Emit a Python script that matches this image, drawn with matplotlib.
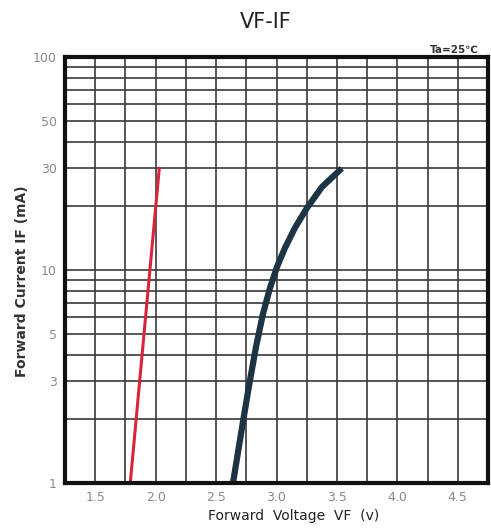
import matplotlib
matplotlib.use("Agg")
import matplotlib.pyplot as plt
import numpy as np

# red LED curve
red_vf = [1.79, 2.03]
red_if = [1, 30]

# dark curve
dark_vf = [2.640, 2.706, 2.772, 2.830, 2.888, 2.946, 3.004, 3.070, 3.152, 3.252, 3.376, 3.54]
dark_if = [1, 1.70, 2.85, 4.35, 6.22, 8.23, 10.33, 12.69, 15.75, 19.55, 24.53, 30]

x_ticks = [1.5, 2.0, 2.5, 3.0, 3.5, 4.0, 4.5]
x_ticklabels = ["1.5", "2.0", "2.5", "3.0", "3.5", "4.0", "4.5"]
y_ticks = [1, 3, 5, 10, 30, 50, 100]
y_ticklabels = ["1", "3", "5", "10", "30", "50", "100"]

fig = plt.figure(figsize=(4.91, 5.30), dpi=100)
ax = fig.add_axes([0.1324, 0.0887, 0.8615, 0.8038])

ax.set_yscale("log")
ax.set_xlim(1.25, 4.75)
ax.set_ylim(1, 100)

# grid: every 0.25 V, log minor lines
for v in np.arange(1.5, 4.75, 0.25):
    ax.axvline(v, color="#3a3a3a", lw=1.2, zorder=1)
for dec in [1, 10]:
    for m in range(2, 11):
        ax.axhline(dec * m, color="#3a3a3a", lw=1.2, zorder=1)

ax.plot(red_vf, red_if, color="#d8243c", lw=2.2, zorder=3)
ax.plot(dark_vf, dark_if, color="#1d3444", lw=4.5, solid_capstyle="butt",
        solid_joinstyle="round", zorder=3)

ax.set_xticks(x_ticks)
ax.set_xticklabels(x_ticklabels)
ax.set_yticks(y_ticks)
ax.set_yticklabels(y_ticklabels)
ax.minorticks_off()
ax.tick_params(length=0, labelsize=9, labelcolor="#8a8a8a", pad=6)

for s in ax.spines.values():
    s.set_linewidth(3)
    s.set_color("#111111")
    s.set_zorder(4)

fig.text(0.542, 0.958, "VF-IF", ha="center", va="center", fontsize=15, color="#222222")
fig.text(0.975, 0.905, "Ta=25℃", ha="right", va="center", fontsize=7.5,
         fontweight="bold", color="#333333")
fig.text(0.598, 0.026, "Forward  Voltage  VF  (v)", ha="center", va="center",
         fontsize=10, color="#222222")
fig.text(0.045, 0.47, "Forward Current IF (mA)", ha="center", va="center",
         rotation=90, fontsize=10, fontweight="bold", color="#333333")

fig.savefig("out.png", dpi=100)
